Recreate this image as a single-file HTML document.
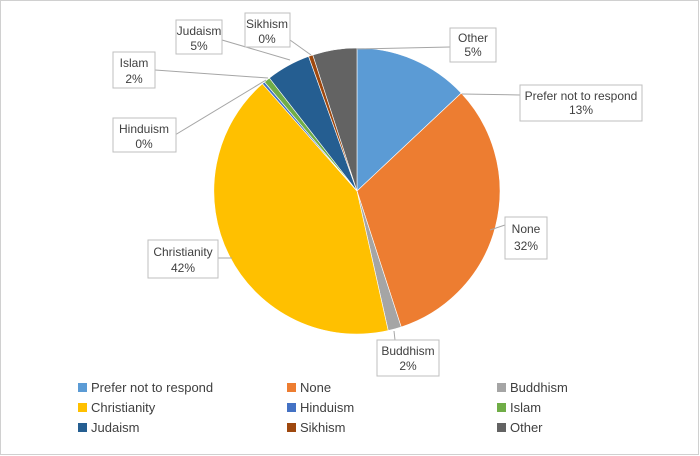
<!DOCTYPE html>
<html><head><style>
body{margin:0;background:#fff;}
svg{display:block;font-family:"Liberation Sans",sans-serif;}
</style></head><body>
<svg width="700" height="456" viewBox="0 0 700 456">
<rect x="0.5" y="0.5" width="698" height="454" fill="#fff" stroke="#d0d0d0"/>
<g stroke="#fff" stroke-width="0.6">
<path d="M357,191 L357,48 A143,143 0 0 1 461.2,93.1Z" fill="#5b9bd5"/>
<path d="M357,191 L461.2,93.1 A143,143 0 0 1 401.2,327Z" fill="#ed7d31"/>
<path d="M357,191 L401.2,327 A143,143 0 0 1 388.2,330.6Z" fill="#a5a5a5"/>
<path d="M357,191 L388.2,330.6 A143,143 0 0 1 262.4,83.7Z" fill="#ffc000"/>
<path d="M357,191 L262.4,83.7 A143,143 0 0 1 264.5,82Z" fill="#4472c4"/>
<path d="M357,191 L264.5,82 A143,143 0 0 1 269.4,78Z" fill="#70ad47"/>
<path d="M357,191 L269.4,78 A143,143 0 0 1 308.6,56.4Z" fill="#255e91"/>
<path d="M357,191 L308.6,56.4 A143,143 0 0 1 312.8,55Z" fill="#9e480e"/>
<path d="M357,191 L312.8,55 A143,143 0 0 1 357,48Z" fill="#636363"/>
</g>
<g stroke="#a6a6a6" fill="none" stroke-width="1">
<polyline points="450,47 357,49"/>
<polyline points="520,95 462,94"/>
<polyline points="505,225 490,230"/>
<polyline points="395,340 394,331"/>
<polyline points="218,258 232,258"/>
<polyline points="175,135 266,80"/>
<polyline points="155,70 268,78"/>
<polyline points="222,40 290,60"/>
<polyline points="290,40 311,55"/>
</g>
<g fill="#fff" stroke="#bfbfbf">
<rect x="450" y="28" width="46" height="34"/>
<rect x="520" y="85" width="122" height="36"/>
<rect x="505" y="217" width="42" height="42"/>
<rect x="377" y="340" width="62" height="36"/>
<rect x="148" y="240" width="70" height="38"/>
<rect x="113" y="118" width="63" height="34"/>
<rect x="113" y="52" width="42" height="36"/>
<rect x="176" y="20" width="46" height="34"/>
<rect x="245" y="13" width="45" height="34"/>
</g>
<g font-size="12" fill="#404040" text-anchor="middle">
<text x="473" y="42">Other</text><text x="473" y="56">5%</text>
<text x="581" y="100">Prefer not to respond</text><text x="581" y="114">13%</text>
<text x="526" y="233">None</text><text x="526" y="250">32%</text>
<text x="408" y="355">Buddhism</text><text x="408" y="370">2%</text>
<text x="183" y="256">Christianity</text><text x="183" y="272">42%</text>
<text x="144" y="133">Hinduism</text><text x="144" y="148">0%</text>
<text x="134" y="67">Islam</text><text x="134" y="83">2%</text>
<text x="199" y="35">Judaism</text><text x="199" y="50">5%</text>
<text x="267" y="28">Sikhism</text><text x="267" y="43">0%</text>
</g>
<g font-size="13" fill="#404040">
<rect x="78" y="383" width="9" height="9" fill="#5b9bd5"/><text x="91" y="392">Prefer not to respond</text>
<rect x="287" y="383" width="9" height="9" fill="#ed7d31"/><text x="300" y="392">None</text>
<rect x="497" y="383" width="9" height="9" fill="#a5a5a5"/><text x="510" y="392">Buddhism</text>
<rect x="78" y="403" width="9" height="9" fill="#ffc000"/><text x="91" y="412">Christianity</text>
<rect x="287" y="403" width="9" height="9" fill="#4472c4"/><text x="300" y="412">Hinduism</text>
<rect x="497" y="403" width="9" height="9" fill="#70ad47"/><text x="510" y="412">Islam</text>
<rect x="78" y="423" width="9" height="9" fill="#255e91"/><text x="91" y="432">Judaism</text>
<rect x="287" y="423" width="9" height="9" fill="#9e480e"/><text x="300" y="432">Sikhism</text>
<rect x="497" y="423" width="9" height="9" fill="#636363"/><text x="510" y="432">Other</text>
</g>
</svg>
</body></html>
